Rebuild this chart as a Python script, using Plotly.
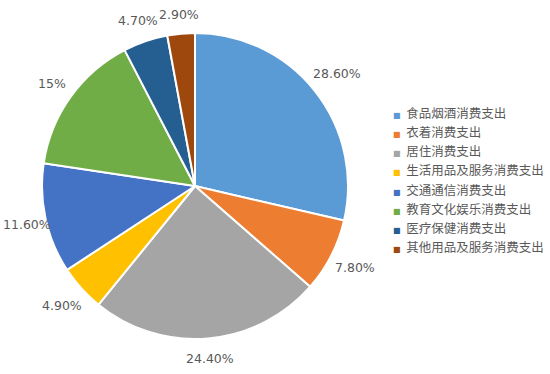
import math
import plotly.graph_objects as go

categories = ["食品烟酒消费支出", "衣着消费支出", "居住消费支出", "生活用品及服务消费支出",
              "交通通信消费支出", "教育文化娱乐消费支出", "医疗保健消费支出", "其他用品及服务消费支出"]
values = [28.60, 7.80, 24.40, 4.90, 11.60, 15, 4.70, 2.90]
label_texts = ["28.60%", "7.80%", "24.40%", "4.90%", "11.60%", "15%", "4.70%", "2.90%"]
colors = ["#5B9BD5", "#ED7D31", "#A5A5A5", "#FFC000", "#4472C4", "#70AD47", "#255E91", "#9E480E"]

W, H = 550, 374
cx, cy, r = 195, 186, 153

fig = go.Figure()
fig.add_trace(go.Pie(
    labels=categories, values=values, sort=False, direction="clockwise", rotation=0,
    marker=dict(colors=colors, line=dict(color="white", width=2)),
    textinfo="none", hoverinfo="label+percent", showlegend=False,
    domain=dict(x=[(cx - r) / W, (cx + r) / W], y=[1 - (cy + r) / H, 1 - (cy - r) / H]),
))

# outside data labels, positioned from slice mid-angles
total = sum(values)
cum = 0.0
label_font = dict(family="DejaVu Sans", size=12.5, color="#595959")
for v, t in zip(values, label_texts):
    mid = (cum + v / 2) / total * 2 * math.pi
    cum += v
    s, c = math.sin(mid), math.cos(mid)
    w = 7.6 * len(t)
    half = (w / 2) * abs(s) + 6 * abs(c)
    R = r + 15 + 0.6 * half
    px = cx + R * s
    py = cy - R * c
    px = max(px, w / 2 + 4)
    fig.add_annotation(x=px / W, y=1 - py / H, xref="paper", yref="paper", text=t,
                       showarrow=False, font=label_font, xanchor="center", yanchor="middle")

# legend entries: small coloured square drawn in the entry text
for name, col in zip(categories, colors):
    fig.add_trace(go.Scatter(
        x=[None], y=[None], mode="lines",
        name=f'<span style="color:{col};font-size:8px;font-family:DejaVu Sans">■</span>  {name}',
        line=dict(color="rgba(0,0,0,0)", width=0)))

fig.update_layout(
    width=W, height=H, margin=dict(l=0, r=0, t=0, b=0, autoexpand=False),
    paper_bgcolor="white", plot_bgcolor="white",
    xaxis=dict(visible=False), yaxis=dict(visible=False),
    legend=dict(x=353 / W, y=1 - 98 / H, xanchor="left", yanchor="top",
                font=dict(family="Noto Sans CJK SC", size=12.5, color="#595959"),
                tracegroupgap=0),
)
fig.write_html("out.html", post_script="document.body.style.margin='0';",
               config={"displayModeBar": False})
